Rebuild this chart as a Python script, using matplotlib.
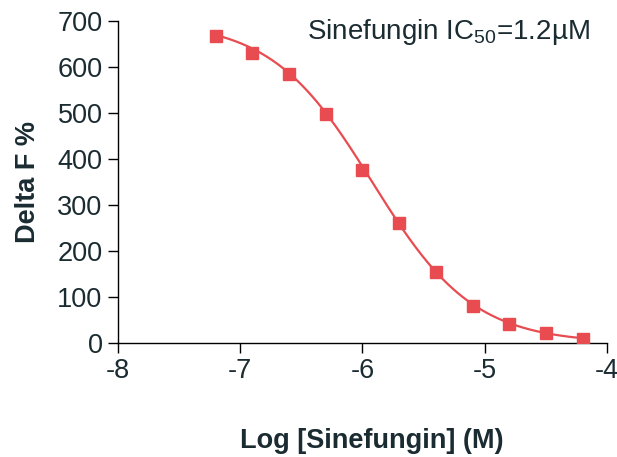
import numpy as np
import matplotlib
matplotlib.use("Agg")
import matplotlib.pyplot as plt

plt.rcParams["font.family"] = ["Liberation Sans", "DejaVu Sans"]
plt.rcParams["mathtext.fontset"] = "custom"
plt.rcParams["mathtext.rm"] = "Liberation Sans"

# measured points
log_conc = [-7.2, -6.9, -6.6, -6.3, -6.0, -5.7, -5.4, -5.1, -4.8, -4.5, -4.2]
delta_f = [667, 630, 585, 497, 377, 261, 154, 81, 41, 22, 9]

# 4PL fit parameters
fit_top = 700.0
fit_bottom = 0.0
fit_log_ic50 = -5.92
fit_hill = 1.05

xticks = [-8, -7, -6, -5, -4]
yticks = [0, 100, 200, 300, 400, 500, 600, 700]

RED = "#e84c50"
TEXT = "#1a2b31"
FS = 19.5

x_fit = np.linspace(log_conc[0], log_conc[-1], 300)
y_fit = fit_bottom + (fit_top - fit_bottom) / (1 + 10 ** (fit_hill * (x_fit - fit_log_ic50)))

fig = plt.figure(figsize=(6.17, 4.57), dpi=100)
ax = fig.add_axes([0.191, 0.249, 0.793, 0.705])

ax.plot(x_fit, y_fit, color=RED, lw=1.6, zorder=2)
ax.plot(log_conc, delta_f, "s", color=RED, ms=8, zorder=3)

ax.set_xlim(-8, -4)
ax.set_ylim(0, 700)
ax.set_xticks(xticks)
ax.set_yticks(yticks)
ax.set_xticklabels([str(t) for t in xticks])
ax.tick_params(direction="out", length=7, width=1, colors="black",
               labelsize=FS, labelcolor=TEXT, pad=4)

for s in ["top", "right"]:
    ax.spines[s].set_visible(False)
for s in ["left", "bottom"]:
    ax.spines[s].set_linewidth(1)

ax.set_ylabel("Delta F %", fontsize=FS, fontweight="bold", color=TEXT, labelpad=12)
fig.text(0.603, 0.035, "Log [Sinefungin] (M)", fontsize=FS, fontweight="bold",
         color=TEXT, ha="center", va="center")

ax.text(-6.45, 676, r"Sinefungin IC$_{\mathregular{50}}$=1.2µM", fontsize=20,
        color=TEXT, ha="left", va="center")

fig.savefig("out.png", dpi=100)
